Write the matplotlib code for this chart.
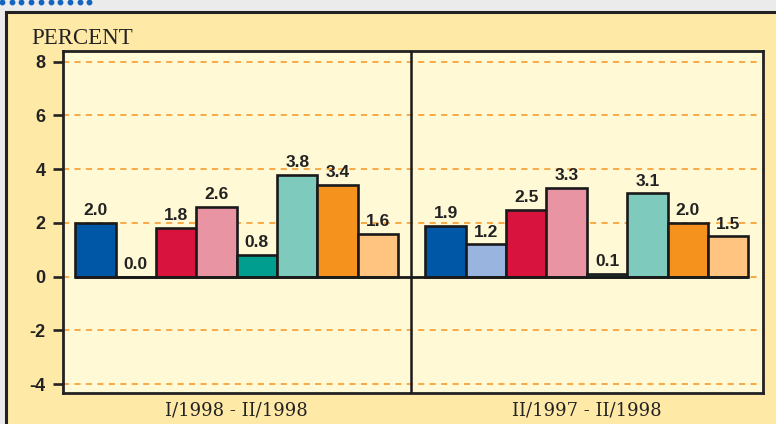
import matplotlib
matplotlib.use("Agg")
import matplotlib.pyplot as plt
from matplotlib.patches import Rectangle
from matplotlib.lines import Line2D
import numpy as np

# ---- data ----
periods = ["I/1998 - II/1998", "II/1997 - II/1998"]
values_a = [2.0, 0.0, 1.8, 2.6, 0.8, 3.8, 3.4, 1.6]
values_b = [1.9, 1.2, 2.5, 3.3, 0.1, 3.1, 2.0, 1.5]
colors = ["#0057A6", "#99B5DF", "#D8143E", "#E994A3",
          "#009E8F", "#7ECBBE", "#F5921E", "#FFC47F"]
yticks = [-4, -2, 0, 2, 4, 6, 8]

NARROW = ["Liberation Sans Narrow", "Liberation Sans"]

W, H = 776, 424
fig = plt.figure(figsize=(W / 100, H / 100), dpi=100, facecolor="#EBEBEB")

# outer cream panel
fig.patches.append(Rectangle((6 / W, -0.05), 1.0, 1 - 12 / H + 0.05,
                             transform=fig.transFigure, facecolor="#FFE9A7",
                             edgecolor="#222222", linewidth=2.2, zorder=-2))
# blue dotted decoration at top-left
fig.lines.append(Line2D(np.arange(2, 95, 9.7) / W, [1 - 1.5 / H] * 10,
                        transform=fig.transFigure, linestyle="none",
                        marker="o", markersize=3.2, color="#1565C0",
                        zorder=-1))

ax = fig.add_axes([63 / W, (H - 393) / H, (763 - 63) / W, (393 - 51) / H])
ax.set_zorder(2)
ax.set_facecolor("#FFF9D6")

x_a = 0.8 + np.arange(len(values_a))
x_b = 9.47 + np.arange(len(values_b))

for xs, vals in ((x_a, values_a), (x_b, values_b)):
    ax.bar(xs, vals, width=1.0, color=colors, edgecolor="#1a1a1a",
           linewidth=1.9, zorder=3)
    for x, v in zip(xs, vals):
        ax.annotate(f"{v:.1f}", (x, v), xytext=(0, 3.5),
                    textcoords="offset points", ha="center", va="bottom",
                    fontsize=12.5, fontweight="bold", color="#222222",
                    family=NARROW, zorder=4)

# baseline under bars
ax.plot([x_a[0] - 0.5, x_b[-1] + 0.5], [0, 0], color="#1a1a1a",
        linewidth=2.0, zorder=4, solid_capstyle="butt")
# divider between periods
ax.axvline((x_a[-1] + x_b[0]) / 2 - 0.01, color="#1a1a1a", linewidth=1.8,
           zorder=4)

for y in yticks:
    ax.axhline(y, color="#F7941D", linestyle=(0, (4, 3.5)), linewidth=1.1,
               zorder=1)

ax.set_xlim(0, 17.33)
ax.set_ylim(-4.33, 8.4)
ax.set_xticks([])
ax.set_yticks(yticks)
ax.set_yticklabels([str(t) for t in yticks], fontsize=13, fontweight="bold",
                   family=NARROW, color="#222222")
ax.tick_params(axis="y", direction="out", length=7.5, width=1.9,
               color="#222222", pad=5)
for s in ax.spines.values():
    s.set_linewidth(2.0)
    s.set_color("#222222")

for xs, name in zip((x_a, x_b), periods):
    ax.text((xs[0] + xs[-1]) / 2, -0.05, name, transform=ax.get_xaxis_transform(),
            ha="center", va="center", fontsize=13, family="DejaVu Serif",
            color="#222222")

fig.text(31 / W, 1 - 39 / H, "PERCENT", ha="left", va="center", fontsize=16.5,
         family="Liberation Serif", color="#222222")

fig.savefig("out.png", dpi=100, facecolor=fig.get_facecolor())
